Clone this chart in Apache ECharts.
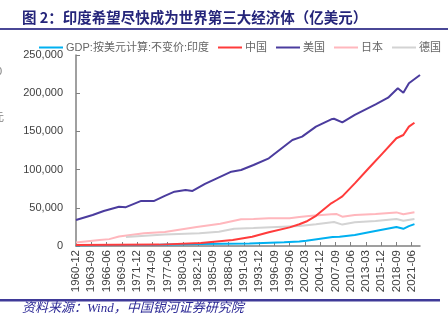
<!DOCTYPE html>
<html>
<head>
<meta charset="utf-8">
<script src="https://cdn.jsdelivr.net/npm/echarts@6/dist/echarts.min.js"></script>
<style>
  html, body { margin: 0; padding: 0; background: #fff; }
  #chart { width: 448px; height: 327px; }
</style>
</head>
<body>
<div id="chart"></div>
<script>
// Quarterly category axis, 1960-12 through 2022-12
const quarters = [];
for (let y = 1960; y <= 2022; y++) {
  for (const m of ['03', '06', '09', '12']) {
    if (y === 1960 && m !== '12') continue;
    quarters.push(y + '-' + m);
  }
}

const yTicks = [0, 50000, 100000, 150000, 200000, 250000];

// GDP, constant prices, 100 million USD
const indiaDates = ['1960-12','1975-12','1983-03','1992-03','1998-06','2001-03','2002-06','2007-03','2008-06','2011-03','2014-03','2018-09','2019-12','2020-12','2021-12'];
const indiaGdp   = [1000, 1500, 2500, 3200, 4800, 5800, 7000, 11800, 12200, 14400, 18700, 24800, 22500, 26000, 28600];

const chinaDates = ['1960-12','1975-12','1983-06','1989-03','1992-09','1995-09','1999-06','2001-03','2002-06','2004-03','2006-12','2007-12','2008-12','2011-03','2013-09','2016-03','2018-09','2019-12','2020-12','2021-12'];
const chinaGdp   = [1200, 1800, 3800, 8000, 12000, 18000, 24400, 28500, 32000, 39500, 55900, 60200, 65000, 82000, 101700, 121300, 141000, 145300, 156200, 161400];

const usDates = ['1960-12','1963-12','1965-12','1968-09','1969-12','1972-09','1974-12','1976-12','1978-09','1980-09','1981-12','1984-03','1985-12','1988-12','1990-09','1992-12','1995-09','1999-12','2001-09','2004-03','2006-12','2007-06','2008-12','2011-03','2014-12','2017-03','2018-12','2019-12','2020-12','2022-12'];
const usGdp   = [34000, 40600, 45800, 51400, 50800, 59000, 58800, 65500, 71100, 73300, 72000, 81200, 87300, 97300, 99500, 106000, 114800, 138700, 143100, 156200, 165800, 166500, 161900, 171500, 185500, 194100, 206400, 200700, 213000, 223800];

const japanDates = ['1960-12','1965-03','1966-12','1968-09','1973-03','1976-12','1982-09','1986-12','1990-09','1992-12','1995-09','1999-06','2001-03','2002-12','2006-12','2007-12','2008-12','2011-03','2014-12','2018-09','2019-12','2021-12'];
const japanGdp   = [4500, 7900, 9000, 12500, 16600, 18300, 25000, 29000, 34900, 35200, 36200, 36200, 38000, 39300, 41500, 41800, 38400, 40600, 41900, 44000, 41500, 44100];

const germanyDates = ['1969-12','1976-12','1983-03','1986-09','1989-06','1992-12','1998-03','2001-03','2004-03','2007-06','2008-12','2011-03','2014-12','2018-09','2019-12','2021-12'];
const germanyGdp   = [11800, 15200, 16800, 18700, 22600, 23500, 25300, 26200, 28500, 31500, 28000, 31000, 32700, 35300, 33100, 35300];

const seriesNames = ['GDP:按美元计算:不变价:印度', '中国', '美国', '日本', '德国'];
const seriesColors = ['#00b0f0', '#ff3b3b', '#4b3c9e', '#ffb7bd', '#d3d3d3'];

function pairs(dates, values) {
  return dates.map((d, i) => [quarters.indexOf(d), values[i]]);
}

const seriesData = [
  pairs(indiaDates, indiaGdp),
  pairs(chinaDates, chinaGdp),
  pairs(usDates, usGdp),
  pairs(japanDates, japanGdp),
  pairs(germanyDates, germanyGdp)
];
const seriesZ = [2, 6, 5, 3, 4];

const baseFont = '"Liberation Sans", Arial, "Noto Sans CJK SC", sans-serif';
const chart = echarts.init(document.getElementById('chart'), null, { renderer: 'canvas' });

chart.setOption({
  animation: false,
  backgroundColor: '#ffffff',
  textStyle: { fontFamily: baseFont },
  grid: { left: 76, right: 28, top: 55, bottom: 81, containLabel: false },
  legend: {
    top: 37,
    left: 34,
    itemWidth: 24,
    itemHeight: 2,
    itemGap: 9,
    icon: 'rect',
    textStyle: { fontSize: 11, color: '#666666', fontFamily: baseFont, padding: [0, 0, 0, -2] },
    data: seriesNames
  },
  xAxis: {
    type: 'category',
    data: quarters,
    boundaryGap: false,
    axisLine: { lineStyle: { color: '#808080', width: 1.5 } },
    axisTick: { show: true, inside: true, length: 4, interval: 10, lineStyle: { color: '#808080' } },
    axisLabel: { interval: 10, rotate: 90, fontSize: 11.5, color: '#404040', margin: 4, fontFamily: baseFont },
    splitLine: { show: false }
  },
  yAxis: {
    type: 'value',
    min: yTicks[0],
    max: yTicks[yTicks.length - 1],
    interval: yTicks[1] - yTicks[0],
    axisLine: { show: true, lineStyle: { color: '#808080', width: 1.5 } },
    axisTick: { show: true, inside: true, length: 4, lineStyle: { color: '#808080' } },
    axisLabel: {
      fontSize: 11, color: '#404040', margin: 13, fontFamily: baseFont,
      formatter: v => v.toLocaleString('en-US')
    },
    splitLine: { show: false }
  },
  series: seriesNames.map((name, i) => ({
    name: name,
    type: 'line',
    data: seriesData[i],
    showSymbol: false,
    symbol: 'none',
    z: seriesZ[i],
    color: seriesColors[i],
    lineStyle: { width: 2, color: seriesColors[i] }
  })),
  graphic: [
    {
      type: 'text', left: 22, top: 10,
      style: {
        text: '图 2：印度希望尽快成为世界第三大经济体（亿美元）',
        fontSize: 14.5, fontWeight: 'bold', fill: '#25257a',
        fontFamily: '"Noto Sans CJK SC", "Liberation Sans", sans-serif'
      }
    },
    {
      type: 'rect', shape: { x: 0, y: 28, width: 448, height: 2 },
      style: { fill: '#4a4796' }
    },
    {
      type: 'rect', shape: { x: 0, y: 299, width: 440, height: 2.5 },
      style: { fill: '#3f3a98' }
    },
    {
      type: 'text', left: 22, top: 302,
      style: {
        text: '资料来源：Wind，中国银河证券研究院',
        fontSize: 13, fontStyle: 'italic', fill: '#2d2a96',
        fontFamily: '"Liberation Serif", "Noto Sans CJK SC", serif'
      }
    },
    {
      type: 'text', x: -4, y: 66,
      style: { text: '0', fontSize: 11, fill: '#808080', fontFamily: baseFont }
    },
    {
      type: 'text', x: -7, y: 111,
      style: { text: '元', fontSize: 11, fill: '#808080', fontFamily: '"Noto Sans CJK SC", sans-serif' }
    }
  ]
});
</script>
</body>
</html>
